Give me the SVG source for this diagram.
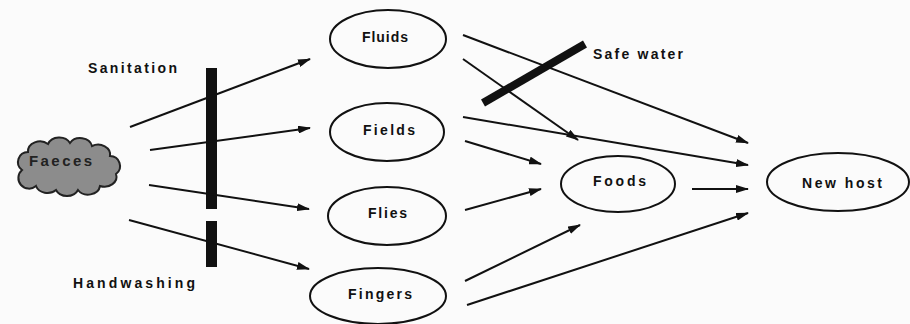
<svg xmlns="http://www.w3.org/2000/svg" width="910" height="324" viewBox="0 0 910 324">
<style>
.bg{fill:#fbfbfb}
.node ellipse{fill:none;stroke:#111;stroke-width:2}
.lbl{font-family:"Liberation Sans",Arial,sans-serif;font-weight:bold;font-size:14px;fill:#111}
.conn line{stroke:#111;stroke-width:2;marker-end:url(#ah)}
.bar{fill:#111}
</style>
<defs>
<marker id="ah" viewBox="0 0 13 8" refX="12" refY="4" markerWidth="13" markerHeight="8" markerUnits="userSpaceOnUse" orient="auto">
<path d="M0,0 L13,4 L0,8 Z" fill="#111"/>
</marker>
</defs>
<rect class="bg" width="910" height="324"/>

<g id="faeces">
<path d="M22 170 a10 10 0 0 1 6 -18 a12 10 0 0 1 20 -8 a12 10 0 0 1 22 -1 a12 10 0 0 1 22 3 a12 10 0 0 1 18 10 a10 10 0 0 1 6 18 a12 10 0 0 1 -16 12 a12 10 0 0 1 -22 4 a12 10 0 0 1 -22 0 a12 10 0 0 1 -20 -4 a10 10 0 0 1 -14 -16 z" fill="#8c8c8c" stroke="#222" stroke-width="2"/>
<text class="lbl" x="29" y="166" textLength="63" lengthAdjust="spacing" style="font-size:15px;fill:#222">Faeces</text>
</g>

<g id="fluids" class="node"><ellipse cx="388" cy="39" rx="58" ry="29"/><text class="lbl" x="362" y="42" textLength="46" lengthAdjust="spacing">Fluids</text></g>
<g id="fields" class="node"><ellipse cx="387" cy="132" rx="57" ry="29"/><text class="lbl" x="363" y="135" textLength="52" lengthAdjust="spacing">Fields</text></g>
<g id="flies" class="node"><ellipse cx="387" cy="216" rx="59" ry="29"/><text class="lbl" x="368" y="218" textLength="39" lengthAdjust="spacing">Flies</text></g>
<g id="fingers" class="node"><ellipse cx="378" cy="296" rx="68" ry="28"/><text class="lbl" x="348" y="299" textLength="64" lengthAdjust="spacing">Fingers</text></g>
<g id="foods" class="node"><ellipse cx="618" cy="184" rx="57" ry="28"/><text class="lbl" x="593" y="186" textLength="53" lengthAdjust="spacing">Foods</text></g>
<g id="newhost" class="node"><ellipse cx="838" cy="182" rx="71" ry="29"/><text class="lbl" x="802" y="188" textLength="80" lengthAdjust="spacing">New host</text></g>

<g id="barriers">
<rect class="bar" x="206" y="68" width="11" height="141"/>
<rect class="bar" x="206" y="221" width="11" height="46"/>
<line x1="483" y1="103" x2="585" y2="44" stroke="#111" stroke-width="8"/>
<text class="lbl" x="88" y="73" textLength="89" lengthAdjust="spacing">Sanitation</text>
<text class="lbl" x="73" y="288" textLength="122" lengthAdjust="spacing">Handwashing</text>
<text class="lbl" x="593" y="59" textLength="90" lengthAdjust="spacing">Safe water</text>
</g>

<g id="connectors" class="conn">
<line x1="130" y1="127" x2="310" y2="59"/>
<line x1="150" y1="150" x2="310" y2="128"/>
<line x1="149" y1="185" x2="309" y2="209"/>
<line x1="129" y1="220" x2="309" y2="269"/>
<line x1="463" y1="59" x2="578" y2="140"/>
<line x1="463" y1="35" x2="748" y2="143"/>
<line x1="463" y1="117" x2="748" y2="165"/>
<line x1="465" y1="141" x2="541" y2="164"/>
<line x1="465" y1="210" x2="541" y2="189"/>
<line x1="465" y1="281" x2="580" y2="225"/>
<line x1="467" y1="305" x2="748" y2="213"/>
<line x1="692" y1="189" x2="748" y2="189"/>
</g>
</svg>
